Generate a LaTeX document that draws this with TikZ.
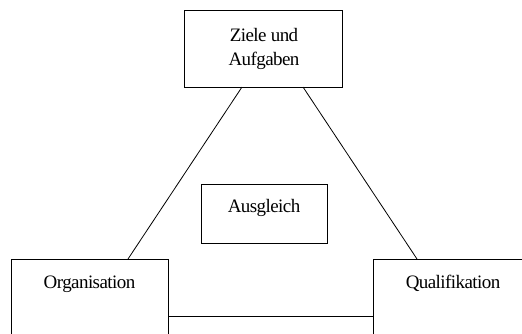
\documentclass[tikz,border=0pt]{standalone}
\usepackage{fontspec}
\setmainfont{Liberation Serif}[LetterSpace=-3]
\begin{document}
\begin{tikzpicture}[x=1pt, y=-1pt,
  box/.style={draw, line width=0.8pt, inner sep=0pt, outer sep=0pt},
  lbl/.style={font=\fontsize{19}{24}\selectfont, align=center, inner sep=0pt},
  link/.style={line width=0.8pt}]
\useasboundingbox (0,0) rectangle (522,333);
\clip (0,0) rectangle (522,333);

% boxes
\node[box, minimum width=158pt, minimum height=77pt] (ziele) at (263,48.5) {};
\node[box, minimum width=126pt, minimum height=59pt] (ausgl) at (264,213.5) {};
\node[box, minimum width=157pt, minimum height=92pt] (org) at (89.5,305) {};
\node[box, minimum width=160pt, minimum height=92pt] (qual) at (453,305) {};

% labels
\node[lbl] (tziele) at (264,49) {Ziele und\\Aufgaben};
\node[lbl, anchor=base] (tausgl) at (264,212) {Ausgleich};
\node[lbl, anchor=base] (torg) at (89.5,288) {Organisation};
\node[lbl, anchor=base] (tqual) at (453,288) {Qualifikation};

% connectors
\draw[link] ([xshift=58pt]ziele.south west) -- ([xshift=117pt]org.north west);
\draw[link] ([xshift=119pt]ziele.south west) -- ([xshift=44pt]qual.north west);
\draw[link] ([yshift=-57pt]org.north east) -- ([yshift=-57pt]qual.north west);
\end{tikzpicture}
\end{document}
